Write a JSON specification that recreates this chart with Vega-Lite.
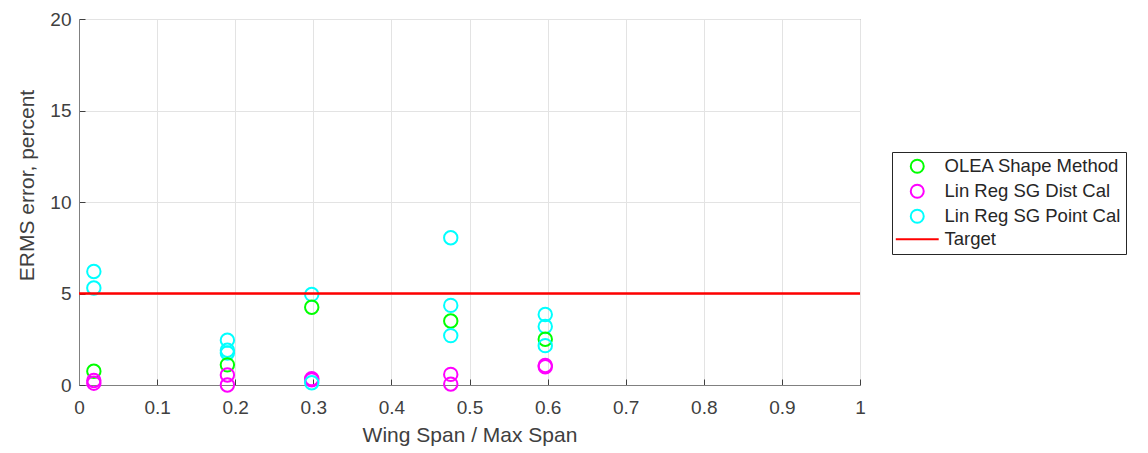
{
  "$schema": "https://vega.github.io/schema/vega-lite/v6.json",
  "width": 781,
  "height": 366,
  "autosize": {"type": "none"},
  "padding": {"left": 79, "top": 19, "right": 288, "bottom": 68},
  "background": "white",
  "config": {
    "font": "Liberation Sans",
    "view": {"stroke": "#808080", "strokeWidth": 1},
    "axis": {
      "labelFont": "Liberation Sans",
      "titleFont": "Liberation Sans",
      "labelColor": "#404040",
      "titleColor": "#404040",
      "labelFontSize": 19,
      "titleFontSize": 21,
      "titleFontWeight": "normal",
      "domainColor": "#808080",
      "tickColor": "#404040",
      "gridColor": "#e3e3e3",
      "gridWidth": 1
    },
    "legend": {
      "labelFont": "Liberation Sans",
      "labelFontSize": 18.5,
      "labelColor": "#262626",
      "labelLimit": 400
    }
  },
  "datasets": {
    "pts": [
      {"span": 0.019, "err": 6.2, "series": "Lin Reg SG Point Cal"},
      {"span": 0.019, "err": 5.3, "series": "Lin Reg SG Point Cal"},
      {"span": 0.019, "err": 0.75, "series": "OLEA Shape Method"},
      {"span": 0.019, "err": 0.25, "series": "Lin Reg SG Dist Cal"},
      {"span": 0.019, "err": 0.1, "series": "Lin Reg SG Dist Cal"},
      {"span": 0.19, "err": 2.45, "series": "Lin Reg SG Point Cal"},
      {"span": 0.19, "err": 1.9, "series": "Lin Reg SG Point Cal"},
      {"span": 0.19, "err": 1.75, "series": "Lin Reg SG Point Cal"},
      {"span": 0.19, "err": 1.1, "series": "OLEA Shape Method"},
      {"span": 0.19, "err": 0.55, "series": "Lin Reg SG Dist Cal"},
      {"span": 0.19, "err": 0.0, "series": "Lin Reg SG Dist Cal"},
      {"span": 0.298, "err": 4.95, "series": "Lin Reg SG Point Cal"},
      {"span": 0.298, "err": 4.25, "series": "OLEA Shape Method"},
      {"span": 0.298, "err": 0.35, "series": "Lin Reg SG Dist Cal"},
      {"span": 0.298, "err": 0.28, "series": "Lin Reg SG Dist Cal"},
      {"span": 0.298, "err": 0.12, "series": "Lin Reg SG Point Cal"},
      {"span": 0.476, "err": 8.05, "series": "Lin Reg SG Point Cal"},
      {"span": 0.476, "err": 4.35, "series": "Lin Reg SG Point Cal"},
      {"span": 0.476, "err": 3.5, "series": "OLEA Shape Method"},
      {"span": 0.476, "err": 2.7, "series": "Lin Reg SG Point Cal"},
      {"span": 0.476, "err": 0.58, "series": "Lin Reg SG Dist Cal"},
      {"span": 0.476, "err": 0.05, "series": "Lin Reg SG Dist Cal"},
      {"span": 0.597, "err": 3.85, "series": "Lin Reg SG Point Cal"},
      {"span": 0.597, "err": 3.2, "series": "Lin Reg SG Point Cal"},
      {"span": 0.597, "err": 2.5, "series": "OLEA Shape Method"},
      {"span": 0.597, "err": 2.15, "series": "Lin Reg SG Point Cal"},
      {"span": 0.597, "err": 1.07, "series": "Lin Reg SG Dist Cal"},
      {"span": 0.597, "err": 1.0, "series": "Lin Reg SG Dist Cal"}
    ],
    "target": [{"err": 5}]
  },
  "layer": [
    {
      "data": {"name": "pts"},
      "mark": {"type": "point", "filled": false, "size": 180, "strokeWidth": 2, "opacity": 1},
      "encoding": {
        "x": {
          "field": "span", "type": "quantitative",
          "scale": {"domain": [0, 1], "nice": false},
          "axis": {"title": "Wing Span / Max Span", "values": [0,0.1,0.2,0.3,0.4,0.5,0.6,0.7,0.8,0.9,1], "format": "~g", "tickSize": -6, "labelPadding": 19, "titlePadding": 7, "grid": true, "labelFlush": false}
        },
        "y": {
          "field": "err", "type": "quantitative",
          "scale": {"domain": [0, 20], "nice": false},
          "axis": {"title": "ERMS error, percent", "values": [0,5,10,15,20], "tickSize": -6, "labelPadding": 14, "titlePadding": 12, "titleY": 166, "grid": true, "labelFlush": false}
        },
        "color": {
          "field": "series", "type": "nominal",
          "scale": {
            "domain": ["OLEA Shape Method", "Lin Reg SG Dist Cal", "Lin Reg SG Point Cal", "Target"],
            "range": ["#00ff00", "#ff00ff", "#00ffff", "#ff0000"]
          },
          "legend": {
            "title": null,
            "orient": "none",
            "legendX": 813,
            "legendY": 133,
            "strokeColor": "#262626",
            "fillColor": "white",
            "padding": 5,
            "rowPadding": 3,
            "symbolStrokeWidth": 2,
            "symbolSize": 169,
            "symbolOffset": 11,
            "labelOffset": 18
          }
        },
        "shape": {
          "field": "series", "type": "nominal",
          "scale": {
            "domain": ["OLEA Shape Method", "Lin Reg SG Dist Cal", "Lin Reg SG Point Cal", "Target"],
            "range": ["circle", "circle", "circle", "M-3.3,0L3.3,0"]
          },
          "legend": null
        }
      }
    },
    {
      "data": {"name": "target"},
      "mark": {"type": "rule", "strokeWidth": 2.5, "color": "#ff0000", "clip": true},
      "encoding": {
        "y": {"field": "err", "type": "quantitative"}
      }
    }
  ]
}
